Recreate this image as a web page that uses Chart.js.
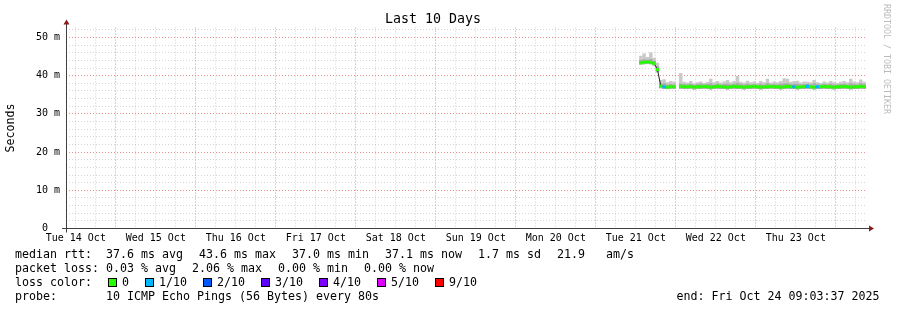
<!DOCTYPE html>
<html>
<head>
<meta charset="utf-8">
<script src="https://cdn.jsdelivr.net/npm/chart.js@4.4.0/dist/chart.umd.min.js"></script>
<style>
    body { margin: 0; background: #fff; }
    #wrap { position: relative; width: 897px; height: 310px; font-family: "DejaVu Sans Mono", monospace; color: #000; }
    #wrap canvas { position: absolute; left: 0; top: 0; }
    .row { position: absolute; font-size: 11.63px; line-height: 14px; white-space: pre; }
    .item { display: inline-block; margin-right: 16px; }
    .swatch { display: inline-block; width: 7px; height: 7px; border: 1px solid #000; margin-right: 5px; vertical-align: -1px; }
    #stamp { position: absolute; left: 882px; top: 4px; font-size: 8.3px; color: #bbb; writing-mode: vertical-rl; white-space: pre; }
</style>
</head>
<body>
<div id="wrap">
    <canvas id="graph" width="897" height="310"></canvas>
    <div id="stamp">RRDTOOL / TOBI OETIKER</div>
</div>
<script>
// time axis: hours since Tue 14 Oct 00:00, graph ends Fri 24 Oct 09:03:37
var endHour = 249.06;
var spanHours = 240;
var dayLabels = ["Tue 14 Oct", "Wed 15 Oct", "Thu 16 Oct", "Fri 17 Oct", "Sat 18 Oct",
    "Sun 19 Oct", "Mon 20 Oct", "Tue 21 Oct", "Wed 22 Oct", "Thu 23 Oct"];

// one sample per hour (null = no data)
var hours = [181.5, 182.5, 183.5, 184.5, 185.5, 186.5,
    187.5, 188.5, 189.5, 190.5, 191.5,
    192.5,
    193.5, 194.5, 195.5, 196.5, 197.5, 198.5, 199.5, 200.5, 201.5, 202.5,
    203.5, 204.5, 205.5, 206.5, 207.5, 208.5, 209.5, 210.5, 211.5, 212.5,
    213.5, 214.5, 215.5, 216.5, 217.5, 218.5, 219.5, 220.5, 221.5, 222.5,
    223.5, 224.5, 225.5, 226.5, 227.5, 228.5, 229.5, 230.5, 231.5, 232.5,
    233.5, 234.5, 235.5, 236.5, 237.5, 238.5, 239.5, 240.5, 241.5, 242.5,
    243.5, 244.5, 245.5, 246.5, 247.5, 248.5];

var median = [43.4, 43.5, 43.6, 43.5, 43.2, 41.6,
    37.3, 37.1, 37.0, 37.1, 37.1,
    null,
    37.2, 37.1, 37.1, 37.2, 37.0, 37.1, 37.1, 37.2, 37.1, 37.0,
    37.1, 37.2, 37.1, 37.1, 37.0, 37.1, 37.2, 37.1, 37.1, 37.0,
    37.1, 37.1, 37.2, 37.1, 37.0, 37.1, 37.1, 37.2, 37.1, 37.1,
    37.0, 37.1, 37.2, 37.1, 37.1, 37.0, 37.1, 37.1, 37.2, 37.1,
    37.0, 37.1, 37.1, 37.2, 37.1, 37.1, 37.0, 37.1, 37.1, 37.2,
    37.1, 37.0, 37.1, 37.1, 37.2, 37.1];

var smokeHi = [45.2, 45.8, 44.9, 46.1, 44.7, 43.4,
    38.9, 39.1, 38.3, 38.6, 38.4,
    null,
    40.7, 38.4, 38.2, 38.6, 38.0, 38.3, 38.5, 38.1, 38.4, 39.2,
    38.3, 38.6, 38.2, 38.5, 38.9, 38.3, 38.6, 39.9, 38.4, 38.2,
    38.7, 38.3, 38.5, 38.1, 38.6, 38.3, 39.2, 38.2, 38.5, 38.3,
    38.6, 39.3, 39.2, 38.4, 38.6, 38.7, 38.2, 38.5, 38.4, 38.3,
    38.9, 38.3, 38.1, 38.5, 38.2, 38.6, 38.3, 38.1, 38.4, 38.6,
    38.3, 39.2, 38.5, 38.3, 39.0, 38.4];

var innerHi = [44.1, 44.3, 44.2, 44.4, 43.9, 42.5,
    37.9, 38.0, 37.7, 37.8, 37.7,
    null,
    37.9, 37.8, 37.7, 37.9, 37.6, 37.8, 37.9, 37.7, 37.8, 38.0,
    37.7, 37.9, 37.7, 37.8, 37.9, 37.7, 37.9, 38.1, 37.8, 37.7,
    37.9, 37.7, 37.8, 37.6, 37.9, 37.7, 38.0, 37.7, 37.8, 37.7,
    37.9, 38.0, 38.0, 37.8, 37.9, 37.9, 37.7, 37.8, 37.8, 37.7,
    38.0, 37.7, 37.6, 37.8, 37.7, 37.9, 37.7, 37.6, 37.8, 37.9,
    37.7, 38.0, 37.8, 37.7, 38.0, 37.8];

var smokeLo = [42.9, 43.0, 43.1, 43.0, 42.7, 40.9,
    36.7, 36.5, 36.5, 36.6, 36.6,
    null,
    36.6, 36.5, 36.5, 36.6, 36.4, 36.5, 36.5, 36.6, 36.5, 36.4,
    36.5, 36.6, 36.5, 36.5, 36.4, 36.5, 36.6, 36.5, 36.5, 36.4,
    36.5, 36.5, 36.6, 36.5, 36.4, 36.5, 36.5, 36.6, 36.5, 36.5,
    36.4, 36.5, 36.6, 36.5, 36.5, 36.4, 36.5, 36.5, 36.6, 36.5,
    36.4, 36.5, 36.5, 36.6, 36.5, 36.5, 36.4, 36.5, 36.5, 36.6,
    36.5, 36.4, 36.5, 36.5, 36.6, 36.5];

// lost pings out of 10
var loss = [0, 0, 0, 0, 0, 0,
    0, 1, 0, 0, 0,
    null,
    0, 0, 0, 0, 0, 0, 0, 0, 0, 0,
    0, 0, 0, 0, 0, 0, 0, 0, 0, 0,
    0, 0, 0, 0, 0, 0, 0, 0, 0, 0,
    0, 0, 0, 0, 1, 0, 0, 0, 1, 0,
    0, 1, 0, 0, 0, 0, 0, 0, 0, 0,
    0, 0, 0, 0, 0, 0];

var lossLabels = ["0", "1/10", "2/10", "3/10", "4/10", "5/10", "9/10"];
var lossColors = ["#26ff00", "#00b8ff", "#0059ff", "#5e00ff", "#7e00ff", "#dd00ff", "#ff0000"];

var rttStats = ["37.6 ms avg", "43.6 ms max", "37.0 ms min", "37.1 ms now", "1.7 ms sd", "21.9   am/s"];
var lossStats = ["0.03 % avg", "2.06 % max", "0.00 % min", "0.00 % now"];
var probeText = "10 ICMP Echo Pings (56 Bytes) every 80s";
var endText = "end: Fri Oct 24 09:03:37 2025";

var bandHalf = 0.4;   // half height of the median band, ms
var gridMinor = "rgba(160,160,160,0.45)";
var gridMajor = "rgba(215,70,70,0.6)";

function lossColor(n) {
    if (n >= 9) return lossColors[6];
    if (n >= 5) return lossColors[5];
    return lossColors[n || 0];
}

function points(lo, hi) {
    var out = [];
    for (var i = 0; i < hours.length; i++) {
        if (median[i] === null) continue;
        out.push({x: hours[i], y: [lo(i), hi(i)], loss: loss[i]});
    }
    return out;
}

var medianLine = hours.map(function (h, i) { return {x: h, y: median[i]}; });

var axisArrows = {
    id: 'axisArrows',
    afterDraw: function (chart) {
        var ctx = chart.ctx, a = chart.chartArea;
        var x0 = Math.round(a.left) + 0.5, y0 = Math.round(a.bottom - 0.5) + 0.5;
        ctx.save();
        ctx.strokeStyle = "#404040";
        ctx.lineWidth = 1;
        ctx.beginPath();
        ctx.moveTo(a.left - 4, y0);
        ctx.lineTo(a.right + 4, y0);
        ctx.moveTo(x0, y0 + 4);
        ctx.lineTo(x0, a.top - 4);
        ctx.stroke();
        ctx.fillStyle = "#8b1c1c";
        ctx.beginPath();
        ctx.moveTo(a.right + 8, y0);
        ctx.lineTo(a.right + 3, y0 - 3);
        ctx.lineTo(a.right + 3, y0 + 3);
        ctx.closePath();
        ctx.fill();
        ctx.beginPath();
        ctx.moveTo(x0, a.top - 8);
        ctx.lineTo(x0 - 3, a.top - 3);
        ctx.lineTo(x0 + 3, a.top - 3);
        ctx.closePath();
        ctx.fill();
        ctx.restore();
    }
};

Chart.defaults.font.family = "'DejaVu Sans Mono', monospace";
Chart.defaults.color = "#000";

new Chart(document.getElementById("graph"), {
    type: 'bar',
    data: {
        datasets: [
            {
                type: 'bar',
                label: 'lost',
                data: points(function (i) { return median[i] - bandHalf; },
                             function (i) { return median[i] + bandHalf; }),
                backgroundColor: function (c) { return c.raw ? lossColor(c.raw.loss) : lossColors[0]; },
                grouped: false,
                categoryPercentage: 1,
                barPercentage: 1.02,
                borderWidth: 0,
                order: 1
            },
            {
                type: 'line',
                label: 'median',
                data: medianLine,
                borderColor: "#202020",
                borderWidth: 1,
                pointRadius: 0,
                tension: 0,
                spanGaps: false,
                order: 2
            },
            {
                type: 'bar',
                label: 'smoke inner',
                data: points(function (i) { return smokeLo[i]; }, function (i) { return innerHi[i]; }),
                backgroundColor: "#a9a9a9",
                grouped: false,
                categoryPercentage: 1,
                barPercentage: 1.02,
                borderWidth: 0,
                order: 3
            },
            {
                type: 'bar',
                label: 'smoke',
                data: points(function (i) { return smokeLo[i]; }, function (i) { return smokeHi[i]; }),
                backgroundColor: "#c9c9c9",
                grouped: false,
                categoryPercentage: 1,
                barPercentage: 1.02,
                borderWidth: 0,
                order: 4
            }
        ]
    },
    options: {
        responsive: false,
        animation: false,
        devicePixelRatio: 1,
        events: [],
        layout: {padding: {left: 0, right: 31, top: 0, bottom: 0}},
        plugins: {
            legend: {display: false},
            tooltip: {enabled: false},
            title: {
                display: true,
                text: "Last 10 Days",
                font: {size: 13.3, weight: 'normal'},
                color: "#000",
                padding: {top: 11.6, bottom: 0}
            }
        },
        scales: {
            x: {
                type: 'linear',
                min: endHour - spanHours,
                max: endHour,
                offset: false,
                afterBuildTicks: function (axis) {
                    var t = [];
                    for (var h = 12; h < endHour; h += 6) t.push({value: h});
                    axis.ticks = t;
                },
                afterFit: function (axis) { axis.height = 310 - 228.5; },
                ticks: {
                    autoSkip: false,
                    maxRotation: 0,
                    minRotation: 0,
                    padding: 3.5,
                    font: {size: 10},
                    color: "#000",
                    callback: function (v) {
                        return (v - 12) % 24 === 0 ? dayLabels[(v - 12) / 24] : "";
                    }
                },
                grid: {
                    offset: false,
                    drawTicks: false,
                    lineWidth: 1,
                    color: function (c) { return c.tick && c.tick.value % 24 === 0 ? gridMajor : gridMinor; }
                },
                border: {display: false, dash: [1, 2]}
            },
            y: {
                min: 0,
                max: 52.6,
                afterBuildTicks: function (axis) {
                    var t = [];
                    for (var v = 0; v <= 52; v += 2) t.push({value: v});
                    axis.ticks = t;
                },
                afterFit: function (axis) { axis.width = 66; },
                ticks: {
                    autoSkip: false,
                    padding: 6,
                    font: {size: 10},
                    color: "#000",
                    callback: function (v) {
                        if (v === 0) return "0  ";
                        return v % 10 === 0 ? v + " m" : "";
                    }
                },
                title: {
                    display: true,
                    text: "Seconds",
                    font: {size: 11.6},
                    color: "#000",
                    padding: {top: 4, bottom: 0}
                },
                grid: {
                    drawTicks: false,
                    lineWidth: 1,
                    color: function (c) {
                        if (!c.tick || c.tick.value === 0) return "rgba(0,0,0,0)";
                        return c.tick.value % 10 === 0 ? gridMajor : gridMinor;
                    }
                },
                border: {display: false, dash: [1, 2]}
            }
        }
    },
    plugins: [axisArrows]
});

// legend block below the graph
var wrap = document.getElementById("wrap");

function addRow(top, label, items) {
    var l = document.createElement("div");
    l.className = "row";
    l.style.left = "15px";
    l.style.top = top + "px";
    l.textContent = label;
    wrap.appendChild(l);
    var r = document.createElement("div");
    r.className = "row";
    r.style.left = "106px";
    r.style.top = top + "px";
    items.forEach(function (it) {
        var s = document.createElement("span");
        s.className = "item";
        if (it.color) {
            var b = document.createElement("span");
            b.className = "swatch";
            b.style.background = it.color;
            s.appendChild(b);
            s.appendChild(document.createTextNode(it.text));
        } else {
            s.textContent = it;
        }
        r.appendChild(s);
    });
    wrap.appendChild(r);
    return r;
}

addRow(247, "median rtt:", rttStats);
addRow(261, "packet loss:", lossStats);
var lr = addRow(275, "loss color:", lossLabels.map(function (t, i) { return {text: t, color: lossColors[i]}; }));
lr.style.left = "108px";
addRow(289, "probe:", [probeText]);

var e = document.createElement("div");
e.className = "row";
e.style.left = "676.5px";
e.style.top = "289px";
e.textContent = endText;
wrap.appendChild(e);
</script>
</body>
</html>
